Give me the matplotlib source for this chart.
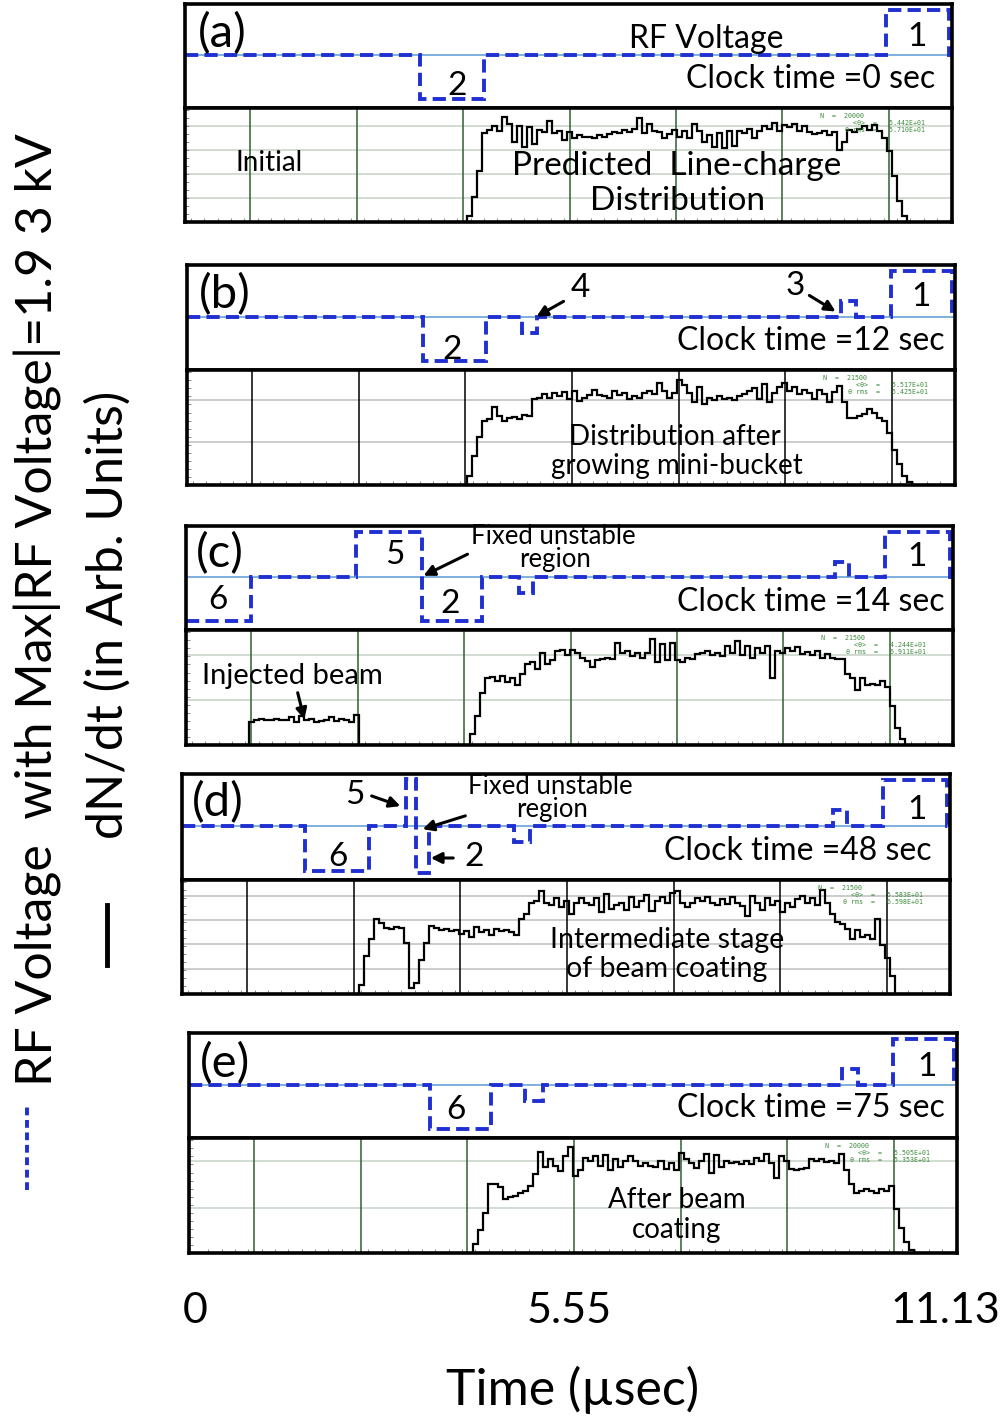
import numpy as np
import matplotlib.pyplot as plt
from matplotlib.lines import Line2D
from matplotlib.patches import FancyArrowPatch
from matplotlib.ticker import MultipleLocator

plt.rcParams['font.family'] = ['Lato', 'DejaVu Sans']

W, H = 1005, 1416

# time axis (usec) shared by every box
T_MIN, T_MAX = -0.09, 11.31
BIN_US = 0.0743
GRID_US = [0.88, 2.46, 4.04, 5.63, 7.21, 8.79, 10.37]
XTICKS = [0, 5.55, 11.13]
XTICK_LABELS = ['0', '5.55', '11.13']

# RF programme: step edges (usec) and relative voltage levels
rf_edges_a = [-0.09, 3.40, 4.35, 10.33, 11.27, 11.31]
rf_levels_a = [0, -0.97, 0, 1.0, 0]

rf_edges_b = [-0.09, 3.42, 4.35, 4.89, 5.11, 9.62, 9.84, 10.36, 11.27, 11.31]
rf_levels_b = [0, -0.97, 0, -0.35, 0, 0.35, 0, 1.0, 0]

rf_edges_c = [-0.09, 0.88, 2.43, 3.42, 4.31, 4.86, 5.07, 9.55, 9.76, 10.30, 11.27, 11.31]
rf_levels_c = [-0.98, 0, 1.0, -0.98, 0, -0.35, 0, 0.35, 0, 1.0, 0]

rf_edges_d = [-0.09, 1.73, 2.68, 3.23, 3.39, 3.57, 4.84, 5.07, 9.57, 9.78, 10.31, 11.27, 11.31]
rf_levels_d = [0, -0.98, 0, 1.03, -1.02, 0, -0.35, 0, 0.35, 0, 1.0, 0]

rf_edges_e = [-0.09, 3.48, 4.40, 4.90, 5.17, 9.61, 9.84, 10.36, 11.27, 11.31]
rf_levels_e = [0, -0.98, 0, -0.35, 0, 0.35, 0, 1.0, 0]

# line-charge histograms (arb. units, % of box height), first bin start in usec
hist_start_a = 4.10
hist_a = [5, 22, 45, 78, 81, 84, 80, 92, 86, 70, 84, 66, 83, 68, 81, 79, 89, 78, 80, 72,
          79, 74, 76, 75, 75, 74, 76, 75, 77, 79, 78, 81, 79, 82, 91, 78, 86, 80, 79, 74,
          77, 81, 75, 80, 74, 86, 80, 70, 76, 66, 78, 65, 80, 67, 80, 78, 82, 74, 80, 84,
          82, 87, 80, 85, 83, 86, 80, 84, 79, 77, 78, 80, 76, 79, 63, 70, 81, 79, 82, 84,
          81, 85, 80, 74, 62, 40, 18, 5]

hist_start_b = 4.06
hist_b = [8, 25, 42, 56, 57, 68, 60, 56, 58, 59, 57, 61, 60, 75, 76, 79, 76, 80, 77, 81,
          75, 82, 73, 76, 78, 83, 78, 77, 76, 82, 78, 80, 75, 77, 76, 80, 82, 79, 89, 82,
          76, 80, 91, 87, 80, 72, 85, 70, 76, 74, 77, 75, 76, 74, 77, 79, 82, 84, 75, 88,
          72, 80, 85, 89, 82, 85, 79, 83, 80, 75, 83, 79, 72, 81, 86, 72, 58, 58, 60, 62,
          66, 63, 58, 56, 45, 30, 18, 8, 3]

hist_start_c_inj = 0.85
hist_c_inj = [20, 22, 23, 22, 22, 23, 22, 22, 24, 20, 25, 22, 23, 20, 21, 22, 24, 21, 23, 22,
              20, 26]
hist_start_c = 4.13
hist_c = [10, 25, 45, 58, 59, 56, 60, 55, 58, 52, 62, 70, 72, 66, 80, 70, 74, 82, 83, 78,
          83, 80, 76, 73, 68, 74, 75, 76, 75, 89, 80, 82, 77, 80, 76, 80, 92, 72, 88, 74,
          89, 74, 72, 76, 75, 79, 80, 82, 78, 80, 77, 86, 80, 90, 78, 86, 76, 84, 80, 86,
          58, 82, 80, 84, 82, 85, 79, 81, 78, 82, 76, 79, 76, 75, 75, 62, 58, 48, 58, 52,
          53, 52, 56, 50, 34, 15, 5]

hist_start_d = 2.54
hist_d = [8, 33, 48, 66, 62, 58, 57, 59, 58, 45, 5, 10, 30, 45, 60, 58, 56, 57, 55, 56,
          53, 55, 50, 59, 54, 56, 52, 57, 55, 56, 54, 52, 66, 70, 80, 82, 90, 80, 78, 84,
          76, 82, 70, 80, 84, 80, 78, 84, 72, 88, 75, 78, 80, 74, 85, 76, 82, 87, 73, 82,
          85, 80, 89, 90, 80, 76, 80, 84, 82, 85, 80, 78, 83, 79, 85, 80, 77, 68, 86, 80,
          74, 84, 78, 82, 72, 80, 76, 83, 86, 80, 84, 78, 91, 80, 70, 63, 61, 57, 48, 56,
          50, 52, 48, 66, 43, 32, 16]

hist_start_e = 4.13
hist_e = [8, 20, 35, 60, 60, 57, 47, 49, 50, 52, 54, 58, 69, 88, 75, 82, 76, 71, 84, 92,
          67, 72, 83, 80, 84, 76, 85, 72, 82, 75, 80, 84, 80, 76, 78, 76, 75, 80, 73, 78,
          72, 87, 82, 78, 74, 80, 86, 70, 85, 75, 80, 78, 79, 77, 80, 77, 83, 80, 86, 78,
          65, 84, 80, 73, 72, 73, 74, 82, 80, 82, 79, 80, 78, 86, 72, 60, 52, 54, 56, 54,
          52, 56, 54, 58, 38, 22, 10, 3]

stats_a = ['20000', '5.442E+01', '5.710E+01']
stats_b = ['21500', '5.517E+01', '5.425E+01']
stats_c = ['21500', '4.244E+01', '6.911E+01']
stats_d = ['21500', '5.583E+01', '6.598E+01']
stats_e = ['20000', '5.505E+01', '5.353E+01']

clock_a, clock_b, clock_c, clock_d, clock_e = 0, 12, 14, 48, 75

GREEN = '#2f5f2f'
BLUE = '#1f2fd0'

fig = plt.figure(figsize=(W / 100, H / 100), dpi=100)


def fx(x):
    return x / W


def fy(y):
    return 1 - y / H


def put(txt, x, y, size, ha='center', va='center', **kw):
    fig.text(fx(x), fy(y), txt, fontsize=size, ha=ha, va=va, **kw)


def arrow(x0, y0, x1, y1):
    fig.add_artist(FancyArrowPatch((fx(x0), fy(y0)), (fx(x1), fy(y1)),
                                   transform=fig.transFigure, arrowstyle='-|>',
                                   mutation_scale=16, lw=2.2, color='black'))


def frame(ax):
    for s in ax.spines.values():
        s.set_linewidth(2.6)
        s.set_color('black')


def rf_box(left, right, top, bottom, edges, levels):
    ax = fig.add_axes([fx(left), fy(bottom), (right - left) / W, (bottom - top) / H])
    ax.set_xlim(T_MIN, T_MAX)
    ax.set_ylim(-1.17, 1.14)
    ax.axhline(0, color='#5b9bd5', lw=1.1, zorder=1)
    ax.stairs(levels, edges, baseline=None, color=BLUE, lw=2.8,
              linestyle=(0, (3.4, 1.6)), zorder=2)
    ax.set_xticks([])
    ax.set_yticks([])
    frame(ax)
    return ax


def hist_box(left, right, top, bottom, hists, gcol, hgrid, stats):
    ax = fig.add_axes([fx(left), fy(bottom), (right - left) / W, (bottom - top) / H])
    ax.set_xlim(T_MIN, T_MAX)
    ax.set_ylim(0, 100)
    hcol = '#c9d6c9' if gcol == GREEN else '#c4c4c4'
    for g in hgrid:
        ax.axhline(g, color=hcol, lw=1.2, zorder=0)
    for g in GRID_US:
        ax.axvline(g, color=gcol, lw=1.1, zorder=0)
    for start, vals in hists:
        edges = start + BIN_US * np.arange(len(vals) + 1)
        ax.stairs(vals, edges, baseline=0, color='black', lw=1.6, zorder=2)
    ax.set_xticks([])
    ax.set_yticks([])
    ax.xaxis.set_minor_locator(MultipleLocator(0.198))
    ax.yaxis.set_minor_locator(MultipleLocator(7))
    ax.tick_params(which='minor', direction='in', length=3, width=0.6, color='#777777')
    ax.text(0.885, 0.955, 'N  =  ' + stats[0], transform=ax.transAxes, ha='right', va='top',
            fontsize=4.8, color='#3d8b3d', family='DejaVu Sans Mono')
    ax.text(0.965, 0.895, '<θ>  =   ' + stats[1], transform=ax.transAxes, ha='right', va='top',
            fontsize=4.8, color='#3d8b3d', family='DejaVu Sans Mono')
    ax.text(0.965, 0.835, 'θ rms  =   ' + stats[2], transform=ax.transAxes, ha='right', va='top',
            fontsize=4.8, color='#3d8b3d', family='DejaVu Sans Mono')
    frame(ax)
    return ax


LBL = 34   # panel letters
NUM = 24   # bucket numbers
CLK = 23   # clock time
TXT = 20   # notes inside histogram boxes

# (a)
rf_box(185, 952, 4, 108, rf_edges_a, rf_levels_a)
hist_box(185, 952, 108, 222, [(hist_start_a, hist_a)], GREEN, [21, 42, 63, 84], stats_a)
put('(a)', 222, 34, LBL)
put('RF Voltage', 706, 39, CLK)
put('1', 917, 37, NUM)
put('2', 457, 86, NUM)
put(f'Clock time ={clock_a} sec', 935, 79, CLK, ha='right')
put('Initial', 269, 163, TXT)
put('Predicted  Line-charge', 677, 166, 24)
put('Distribution', 677, 201, 24)

# (b)
rf_box(187, 955, 265, 370, rf_edges_b, rf_levels_b)
hist_box(187, 955, 370, 485, [(hist_start_b, hist_b)], 'black', [37, 74], stats_b)
put('(b)', 225, 295, LBL)
put('4', 580, 288, NUM)
arrow(566, 300, 534, 318)
put('3', 795, 286, NUM)
arrow(807, 294, 838, 313)
put('1', 921, 297, NUM)
put('2', 452, 350, NUM)
put(f'Clock time ={clock_b} sec', 945, 341, CLK, ha='right')
put('Distribution after', 675, 437, TXT)
put('growing mini-bucket', 677, 466, TXT)

# (c)
rf_box(186, 953, 526, 630, rf_edges_c, rf_levels_c)
hist_box(186, 953, 630, 745, [(hist_start_c_inj, hist_c_inj), (hist_start_c, hist_c)],
         GREEN, [39, 78], stats_c)
put('(c)', 220, 554, LBL)
put('6', 218, 600, NUM)
put('5', 395, 555, NUM)
put('2', 450, 604, NUM)
put('1', 917, 557, NUM)
put('Fixed unstable', 553, 537, 18.5)
put('region', 555, 560, 18.5)
arrow(470, 553, 421, 577)
put(f'Clock time ={clock_c} sec', 945, 602, CLK, ha='right')
put('Injected beam', 292, 676, 21)
arrow(297, 690, 305, 722)

# (d)
rf_box(182, 950, 774, 880, rf_edges_d, rf_levels_d)
hist_box(182, 950, 880, 994, [(hist_start_d, hist_d)], 'black', [22, 44, 65, 86], stats_d)
put('(d)', 218, 803, LBL)
put('5', 355, 795, NUM)
arrow(369, 795, 403, 807)
put('Fixed unstable', 550, 787, 18.5)
put('region', 552, 810, 18.5)
arrow(468, 815, 420, 830)
put('6', 338, 857, NUM)
put('2', 474, 857, NUM)
arrow(456, 858, 428, 858)
put('1', 917, 810, NUM)
put(f'Clock time ={clock_d} sec', 932, 851, CLK, ha='right')
put('Intermediate stage', 667, 940, 20.5)
put('of beam coating', 667, 969, 20.5)

# (e)
rf_box(189, 957, 1033, 1138, rf_edges_e, rf_levels_e)
ax_e = hist_box(189, 957, 1138, 1253, [(hist_start_e, hist_e)], GREEN, [39, 80], stats_e)
put('(e)', 225, 1064, LBL)
put('6', 456, 1110, NUM)
put('1', 927, 1067, NUM)
put(f'Clock time ={clock_e} sec', 945, 1108, CLK, ha='right')
put('After beam', 677, 1200, TXT)
put('coating', 677, 1230, TXT)

# shared time axis under the last box
ax_e.set_xticks(XTICKS)
ax_e.set_xticklabels(XTICK_LABELS, fontsize=31)
ax_e.tick_params(axis='x', which='major', length=0, pad=28)
ax_e.set_xlabel('Time (µsec)', fontsize=36, labelpad=26)

# rotated y labels with line-style keys
put('RF Voltage  with Max|RF Voltage|=1.9 3 kV', 38, 610, 36, rotation=90)
fig.add_artist(Line2D([fx(27), fx(27)], [fy(1190), fy(1105)], transform=fig.transFigure,
                      color=BLUE, lw=2.8, linestyle=(0, (2, 1.2))))
put('dN/dt (in Arb. Units)', 108, 615, 36, rotation=90)
fig.add_artist(Line2D([fx(107), fx(107)], [fy(965), fy(905)], transform=fig.transFigure,
                      color='black', lw=3.5))

fig.savefig('out.png', dpi=100)
